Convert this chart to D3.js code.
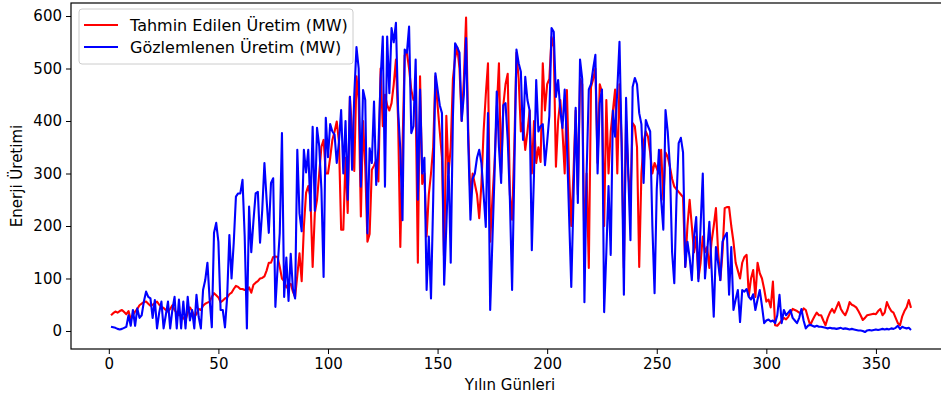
<!DOCTYPE html>
<html>
<head>
<meta charset="utf-8">
<script src="https://cdnjs.cloudflare.com/ajax/libs/d3/7.8.5/d3.min.js"></script>
<style>
  body { margin: 0; background: #fff; }
  svg text { font-family: "DejaVu Sans", sans-serif; fill: #000; }
</style>
</head>
<body>
<svg id="chart" width="941" height="401"></svg>
<script>
// gunluk tahmin (kirmizi) ve gozlem (mavi), gun 1..366
var predicted = [
  30, 34, 37, 35, 38, 40, 36, 32, 38, 22,
  30, 37, 42, 49, 52, 55, 56, 52, 48, 50,
  53, 56, 50, 46, 44, 40, 37, 42, 49, 40,
  34, 30, 30, 25, 20, 35, 45, 38, 28, 32,
  42, 40, 48, 52, 54, 56, 65, 72, 68, 64,
  55, 58, 62, 64, 70, 73, 80, 86, 84, 80,
  80, 78, 77, 83, 73, 88, 92, 95, 100, 101,
  104, 115, 130, 130, 141, 142, 141, 122, 100, 95,
  83, 87, 90, 75, 65, 106, 148, 95, 198, 263,
  276, 255, 122, 225, 250, 300, 351, 364, 300, 300,
  330, 364, 380, 399, 360, 193, 193, 330, 225, 446,
  380, 305, 485, 440, 218, 400, 313, 170, 185, 307,
  315, 325, 285, 500, 390, 450, 430, 420, 434, 470,
  517, 400, 160, 350, 525, 530, 500, 459, 440, 440,
  130, 485, 280, 300, 180, 260, 300, 350, 485, 430,
  380, 330, 130, 410, 300, 350, 480, 520, 540, 500,
  400, 480, 597, 380, 250, 300, 280, 260, 215, 280,
  380, 450, 510, 170, 250, 320, 420, 510, 300, 430,
  470, 490, 260, 212, 350, 530, 480, 380, 400, 345,
  380, 420, 300, 400, 320, 350, 322, 510, 420, 470,
  480, 560, 540, 313, 400, 440, 380, 300, 459, 300,
  200, 300, 420, 260, 480, 470, 150, 300, 120, 465,
  480, 500, 320, 470, 455, 200, 440, 300, 380, 420,
  460, 300, 470, 360, 120, 400, 300, 250, 396, 390,
  350, 122, 300, 360, 380, 370, 340, 300, 320, 310,
  300, 345, 250, 340, 332, 313, 290, 275, 270, 265,
  260, 255, 122, 200, 250, 200, 150, 180, 100, 130,
  180, 150, 160, 120, 170, 200, 234, 150, 97, 150,
  234, 236, 236, 200, 170, 130, 115, 100, 130, 141,
  145, 67, 100, 116, 65, 130, 110, 100, 80, 56,
  60, 45, 94, 11, 10, 15, 20, 25, 22, 27,
  35, 42, 40, 38, 35, 35, 43, 40, 25, 11,
  20, 28, 35, 30, 30, 20, 11, 25, 35, 42,
  35, 45, 55, 42, 35, 30, 40, 55, 50, 48,
  45, 38, 30, 21, 25, 30, 31, 32, 33, 32,
  38, 42, 30, 35, 55, 45, 38, 35, 25, 15,
  11, 28, 38, 45, 59, 44
];

var observed = [
  8, 7, 6, 4, 3, 4, 6, 8, 30, 10,
  40, 10, 43, 25, 30, 56, 75, 65, 62, 25,
  59, 5, 35, 56, 5, 30, 56, 5, 40, 65,
  5, 60, 5, 56, 5, 65, 20, 40, 5, 69,
  27, 5, 78, 97, 130, 60, 7, 187, 206, 170,
  40, 40, 7, 65, 183, 100, 168, 256, 262, 262,
  288, 180, 5, 237, 150, 210, 262, 265, 168, 230,
  320, 250, 187, 282, 291, 46, 120, 187, 377, 65,
  140, 57, 147, 80, 62, 345, 224, 190, 345, 302,
  345, 229, 389, 229, 387, 352, 270, 103, 406, 331,
  394, 380, 374, 320, 360, 421, 300, 400, 250, 446,
  307, 450, 541, 500, 275, 459, 440, 186, 348, 320,
  437, 278, 350, 480, 561, 275, 561, 453, 577, 550,
  587, 420, 345, 211, 536, 530, 580, 377, 390, 517,
  250, 460, 300, 330, 78, 180, 62, 250, 491, 460,
  430, 415, 88, 200, 320, 130, 408, 548, 540, 530,
  400, 450, 558, 358, 212, 290, 300, 330, 345, 320,
  260, 198, 415, 40, 170, 300, 456, 350, 282, 430,
  434, 364, 250, 78, 300, 536, 510, 494, 364, 484,
  440, 420, 154, 300, 478, 380, 390, 394, 316, 360,
  410, 577, 570, 446, 478, 420, 387, 460, 358, 220,
  84, 250, 425, 244, 517, 480, 55, 300, 460, 470,
  500, 526, 300, 434, 460, 36, 150, 276, 145, 420,
  370, 460, 551, 350, 69, 444, 300, 173, 465, 482,
  470, 415, 394, 282, 402, 390, 380, 200, 72, 270,
  345, 250, 193, 421, 380, 313, 150, 91, 250, 358,
  368, 340, 122, 170, 140, 97, 180, 217, 95, 200,
  300, 100, 150, 208, 120, 27, 160, 130, 97, 170,
  180, 187, 69, 160, 40, 60, 78, 17, 78, 75,
  80, 65, 60, 70, 40, 60, 78, 48, 15, 20,
  22, 18, 20, 15, 30, 69, 15, 40, 30, 35,
  40, 25, 20, 15, 25, 42, 20, 5, 10, 12,
  10, 8, 10, 8, 8, 7, 6, 5, 6, 5,
  5, 4, 5, 6, 4, 5, 4, 3, 4, 3,
  2, 1, 1, 0, -2, 1, 2, 1, 2, 3,
  2, 3, 4, 3, 4, 3, 5, 4, 6, 10,
  4, 8, 6, 5, 6, 2
];

var xTicks = [0, 50, 100, 150, 200, 250, 300, 350];
var yTicks = [0, 100, 200, 300, 400, 500, 600];
var seriesNames = ["Tahmin Edilen Üretim (MW)", "Gözlemlenen Üretim (MW)"];
var seriesColors = ["#ff0000", "#0000ff"];

function drawChart() {
    var svg = d3.select("#chart"),
        plot = { left: 71, top: 3, right: 951, bottom: 349 },
        x = d3.scaleLinear().domain([-17.25, 384.25]).range([plot.left, plot.right]),
        y = d3.scaleLinear().domain([-34.3, 624.8]).range([plot.bottom, plot.top]);

    svg.append("defs").append("clipPath").attr("id", "plotClip")
        .append("rect")
        .attr("x", plot.left).attr("y", plot.top)
        .attr("width", plot.right - plot.left).attr("height", plot.bottom - plot.top);

    var line = d3.line()
        .x(function(d, i) { return x(i + 1); })
        .y(function(d) { return y(d); });

    var lines = svg.append("g").attr("clip-path", "url(#plotClip)");
    [predicted, observed].forEach(function(values, k) {
        lines.append("path")
            .attr("d", line(values))
            .attr("fill", "none")
            .attr("stroke", seriesColors[k])
            .attr("stroke-width", 2.1)
            .attr("stroke-linejoin", "round");
    });

    var xAxis = svg.append("g")
        .attr("transform", "translate(0," + plot.bottom + ")")
        .call(d3.axisBottom(x).tickValues(xTicks).tickSize(5).tickPadding(4).tickFormat(d3.format("d")));
    var yAxis = svg.append("g")
        .attr("transform", "translate(" + plot.left + ",0)")
        .call(d3.axisLeft(y).tickValues(yTicks).tickSize(5).tickPadding(4).tickFormat(d3.format("d")));

    [xAxis, yAxis].forEach(function(ax) {
        ax.select(".domain").remove();
        ax.selectAll("text").attr("font-size", 15).attr("font-family", "DejaVu Sans");
        ax.selectAll("line").attr("stroke", "#000");
    });

    // cerceve
    svg.append("rect")
        .attr("x", plot.left).attr("y", plot.top)
        .attr("width", plot.right - plot.left).attr("height", plot.bottom - plot.top)
        .attr("fill", "none").attr("stroke", "#000").attr("stroke-width", 1.2);

    svg.append("text")
        .attr("x", 510).attr("y", 390)
        .attr("text-anchor", "middle")
        .attr("font-size", 15)
        .text("Yılın Günleri");

    svg.append("text")
        .attr("transform", "translate(22,176) rotate(-90)")
        .attr("text-anchor", "middle")
        .attr("font-size", 15)
        .text("Enerji Üretimi");

    var legend = svg.append("g");
    legend.append("rect")
        .attr("x", 79).attr("y", 9).attr("width", 274).attr("height", 55)
        .attr("rx", 3)
        .attr("fill", "#fff").attr("fill-opacity", 0.8)
        .attr("stroke", "#ccc");
    seriesNames.forEach(function(name, k) {
        var ly = 25 + k * 22;
        legend.append("line")
            .attr("x1", 84).attr("x2", 118).attr("y1", ly).attr("y2", ly)
            .attr("stroke", seriesColors[k]).attr("stroke-width", 2);
        legend.append("text")
            .attr("x", 130).attr("y", ly + 5.5)
            .attr("font-size", 16)
            .text(name);
    });
}

drawChart();
</script>
</body>
</html>
